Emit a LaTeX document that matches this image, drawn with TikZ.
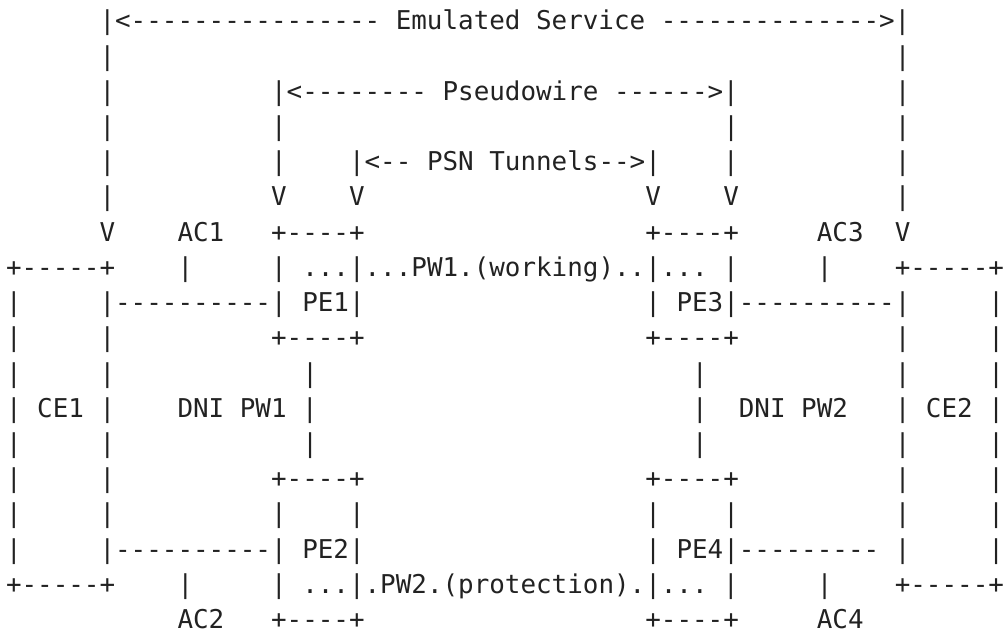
\documentclass[tikz,border=0pt]{standalone}
\usepackage{fontspec}
\setmonofont{DejaVu Sans Mono}
\definecolor{ink}{HTML}{222222}
\newcommand\sk[1]{\hspace*{#1\fontcharwd\font`0}}
\tikzset{
  rowtext/.style={anchor=base west, inner sep=0pt, outer sep=0pt,
    font=\ttfamily\fontsize{25.9pt}{35.2pt}\selectfont\frenchspacing, text=ink}
}
\begin{document}
\begin{tikzpicture}[x=1pt,y=1pt]
\useasboundingbox (0,0) rectangle (1004,-639);
\def\lx{6}
\node[rowtext] (r1)  at (\lx,-30.0)  {\sk6|<---------------- Emulated Service -------------->|};
\node[rowtext] (r2)  at (\lx,-65.2)  {\sk6|\sk{50}|};
\node[rowtext] (r3)  at (\lx,-100.4) {\sk6|\sk{10}|<-------- Pseudowire ------>|\sk{10}|};
\node[rowtext] (r4)  at (\lx,-135.6) {\sk6|\sk{10}|\sk{28}|\sk{10}|};
\node[rowtext] (r5)  at (\lx,-170.8) {\sk6|\sk{10}|\sk4|<-- PSN Tunnels-->|\sk4|\sk{10}|};
\node[rowtext] (r6)  at (\lx,-206.0) {\sk6|\sk{10}V\sk4V\sk{18}V\sk4V\sk{10}|};
\node[rowtext] (r7)  at (\lx,-241.2) {\sk6V\sk4AC1\sk3+----+\sk{18}+----+\sk5AC3\sk2V};
\node[rowtext] (r8)  at (\lx,-276.4) {+-----+\sk4|\sk5| ...|...PW1.(working)..|... |\sk5|\sk4+-----+};
\node[rowtext] (r9)  at (\lx,-311.6) {|\sk5|----------| PE1|\sk{18}| PE3|----------|\sk5|};
\node[rowtext] (r10) at (\lx,-346.8) {|\sk5|\sk{10}+----+\sk{18}+----+\sk{10}|\sk5|};
\node[rowtext] (r11) at (\lx,-382.0) {|\sk5|\sk{12}|\sk{24}|\sk{12}|\sk5|};
\node[rowtext] (r12) at (\lx,-417.2) {| CE1 |\sk4DNI PW1 |\sk{24}|\sk2DNI PW2\sk3| CE2 |};
\node[rowtext] (r13) at (\lx,-452.4) {|\sk5|\sk{12}|\sk{24}|\sk{12}|\sk5|};
\node[rowtext] (r14) at (\lx,-487.6) {|\sk5|\sk{10}+----+\sk{18}+----+\sk{10}|\sk5|};
\node[rowtext] (r15) at (\lx,-522.8) {|\sk5|\sk{10}|\sk4|\sk{18}|\sk4|\sk{10}|\sk5|};
\node[rowtext] (r16) at (\lx,-558.0) {|\sk5|----------| PE2|\sk{18}| PE4|---------\sk1|\sk5|};
\node[rowtext] (r17) at (\lx,-593.2) {+-----+\sk4|\sk5| ...|.PW2.(protection).|... |\sk5|\sk4+-----+};
\node[rowtext] (r18) at (\lx,-628.4) {\sk{11}AC2\sk3+----+\sk{18}+----+\sk5AC4};
\end{tikzpicture}
\end{document}
